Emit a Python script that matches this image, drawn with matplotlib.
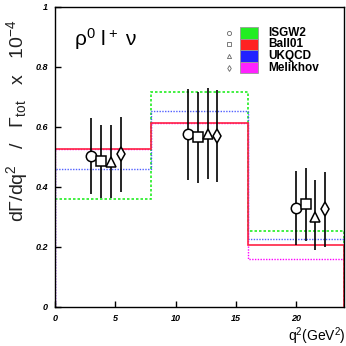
import numpy as np
import matplotlib
matplotlib.use('Agg')
import matplotlib.pyplot as plt
from matplotlib.patches import Rectangle

plt.rcParams['font.family'] = ['Liberation Sans', 'DejaVu Sans']
plt.rcParams['mathtext.default'] = 'regular'

# histogram predictions (q^2 bins, GeV^2)
bin_edges = [0, 8, 16, 24]
isgw2 = [0.358, 0.717, 0.252]
ball01 = [0.525, 0.611, 0.206]
ukqcd = [0.459, 0.652, 0.227]
melikhov = [0.527, 0.613, 0.159]

# measured points, one set per form factor model
circ_x = [3.0, 11.0, 20.0]
circ_y = [0.502, 0.575, 0.330]
circ_lo = [0.377, 0.422, 0.206]
circ_hi = [0.628, 0.726, 0.453]

sq_x = [3.85, 11.85, 20.8]
sq_y = [0.485, 0.565, 0.342]
sq_lo = [0.363, 0.411, 0.219]
sq_hi = [0.606, 0.717, 0.461]

tri_x = [4.65, 12.67, 21.6]
tri_y = [0.482, 0.576, 0.300]
tri_lo = [0.363, 0.425, 0.189]
tri_hi = [0.606, 0.730, 0.422]

dia_x = [5.45, 13.47, 22.4]
dia_y = [0.509, 0.569, 0.325]
dia_lo = [0.383, 0.417, 0.200]
dia_hi = [0.633, 0.722, 0.448]

legend_names = ['ISGW2', 'Ball01', 'UKQCD', 'Melikhov']
x_ticks = [0, 5, 10, 15, 20]
y_ticks = [0, 0.2, 0.4, 0.6, 0.8, 1]

fig = plt.figure(figsize=(3.46, 3.46), dpi=100)
ax = fig.add_axes([0.159, 0.1136, 0.836, 0.867])

# histograms
ax.stairs(melikhov, bin_edges, baseline=0, color='#ff00ff', lw=1.0, ls=(0, (1, 1)))
ax.stairs(isgw2, bin_edges, baseline=0, color='#22ee22', lw=1.2, ls=(0, (1.5, 1.2)))
ax.stairs(ukqcd, bin_edges, baseline=0, color='#3344ff', lw=1.0, ls=(0, (1, 1)), alpha=0.85)
ax.stairs(ball01, bin_edges, baseline=0, color='#ff2244', lw=1.2)

# data points
sets = [
    (circ_x, circ_y, circ_lo, circ_hi, 'o', 7.5),
    (sq_x, sq_y, sq_lo, sq_hi, 's', 7.5),
    (tri_x, tri_y, tri_lo, tri_hi, '^', 7.5),
    (dia_x, dia_y, dia_lo, dia_hi, 'd', 7.0),
]
for xs, ys, lo, hi, mk, ms in sets:
    ys = np.array(ys)
    err = [ys - np.array(lo), np.array(hi) - ys]
    ax.errorbar(xs, ys, yerr=err, fmt=mk, ms=ms, mfc='white', mec='black',
                mew=1.1, ecolor='black', elinewidth=1.2, capsize=0, zorder=5)

ax.set_xlim(0, 24)
ax.set_ylim(0, 1)
ax.set_xticks(x_ticks)
ax.set_yticks(y_ticks)
ax.set_xticklabels([str(t) for t in x_ticks], fontsize=6.5, fontweight='bold', style='italic')
ax.set_yticklabels(['0', '0.2', '0.4', '0.6', '0.8', '1'], fontsize=6.5, fontweight='bold', style='italic')
ax.tick_params(direction='in', length=4, width=1.0, pad=5)
for s in ax.spines.values():
    s.set_linewidth(1.0)

# legend drawn by hand
leg_marks = ['o', 's', '^', 'd']
leg_cols = ['#22ee22', '#ff2222', '#2222ff', '#ff22ff']
leg_y = [0.913, 0.875, 0.836, 0.797]
for name, mk, col, yy in zip(legend_names, leg_marks, leg_cols, leg_y):
    ax.plot([0.602], [yy], marker=mk, ms=3, mfc='white', mec='#666666', mew=0.6,
            transform=ax.transAxes, clip_on=False)
    ax.add_patch(Rectangle((0.640, yy - 0.019), 0.062, 0.038, transform=ax.transAxes,
                           facecolor=col, edgecolor='#999999', lw=0.6))
    ax.text(0.737, yy, name, transform=ax.transAxes, fontsize=8.5, fontweight='bold',
            va='center', ha='left')

ax.text(0.065, 0.893, r'$\rho^0\;$l$^+\;\nu$', transform=ax.transAxes, fontsize=15,
        va='center', ha='left')

fig.text(0.998, 0.014, r'q$^2$(GeV$^2$)', fontsize=10, ha='right', va='baseline')
fig.text(0.048, 0.65, r'd$\Gamma$/dq$^2$   /   $\Gamma_{tot}$   x   10$^{-4}$', fontsize=14,
         rotation=90, ha='center', va='center', color='#222222')

fig.savefig('out.png', dpi=100)
